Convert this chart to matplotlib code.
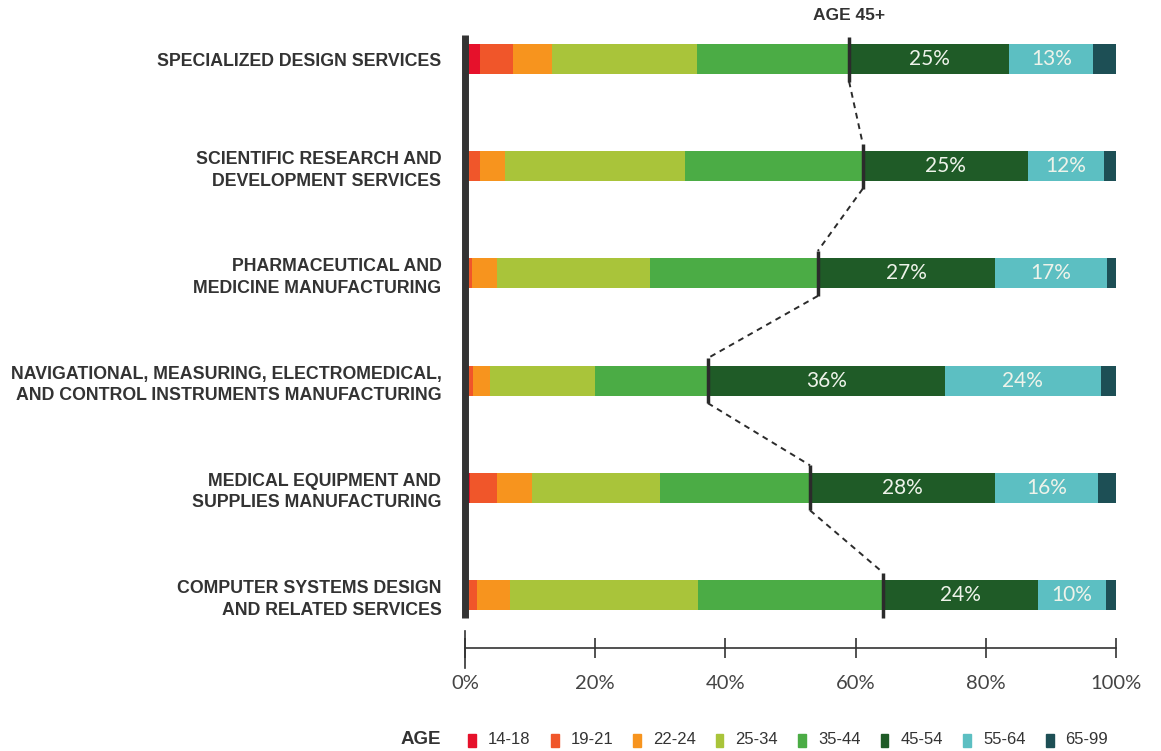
import numpy as np
import matplotlib.pyplot as plt
from matplotlib.patches import Rectangle

# === Data (share of workforce by age bracket, %) ===
industries = [
    "SPECIALIZED DESIGN SERVICES",
    "SCIENTIFIC RESEARCH AND\nDEVELOPMENT SERVICES",
    "PHARMACEUTICAL AND\nMEDICINE MANUFACTURING",
    "NAVIGATIONAL, MEASURING, ELECTROMEDICAL,\nAND CONTROL INSTRUMENTS MANUFACTURING",
    "MEDICAL EQUIPMENT AND\nSUPPLIES MANUFACTURING",
    "COMPUTER SYSTEMS DESIGN\nAND RELATED SERVICES",
]
age_labels = ["14-18", "19-21", "22-24", "25-34", "35-44", "45-54", "55-64", "65-99"]

a14_18 = [2.3, 0.5, 0.3, 0.4, 0.8, 0.5]
a19_21 = [5.1, 1.8, 0.8, 0.8, 4.1, 1.3]
a22_24 = [6.0, 3.8, 3.8, 2.6, 5.4, 5.1]
a25_34 = [22.2, 27.7, 23.5, 16.2, 19.7, 28.9]
a35_44 = [23.4, 27.3, 25.8, 17.3, 23.0, 28.4]
a45_54 = [24.6, 25.4, 27.2, 36.4, 28.4, 23.8]
a55_64 = [12.9, 11.7, 17.2, 24.0, 15.8, 10.4]
a65_99 = [3.5, 1.8, 1.4, 2.3, 2.8, 1.6]

colors = ["#e6112b", "#f0562a", "#f7941e", "#a9c43a",
          "#4bac45", "#1f5b27", "#5cbfc2", "#1d4f55"]

series = [a14_18, a19_21, a22_24, a25_34, a35_44, a45_54, a55_64, a65_99]
data = np.array(series)
n = len(industries)
y = np.arange(n)

# === Figure ===
W, H = 1161, 751
fig = plt.figure(figsize=(W / 100, H / 100), dpi=100)
ax = fig.add_axes([465 / W, 1 - 700 / H, 651 / W, 680 / H])

bar_h = 0.28
left = np.zeros(n)
for vals, col in zip(data, colors):
    ax.barh(y, vals, left=left, height=bar_h, color=col, zorder=2)
    left += vals

# % labels for 45-54 and 55-64
start = data[:5].sum(axis=0)
for k in (5, 6):
    for i in range(n):
        v = data[k, i]
        ax.text(start[i] + v / 2, y[i], f"{v:.0f}%", ha="center", va="center",
                color="#eef3ea", fontsize=15, family=["Lato", "DejaVu Sans"], zorder=4)
    start = start + data[k]

# Age 45+ markers and connecting dashed line
m = data[:5].sum(axis=0)
mh = 0.21
ax.vlines(m, y - mh, y + mh, color="#2b2b2b", lw=2.5, zorder=5, clip_on=False)
for i in range(n - 1):
    ax.plot([m[i], m[i + 1]], [y[i] + mh, y[i + 1] - mh], color="#2b2b2b",
            lw=1.4, ls=(0, (3, 2.5)), zorder=3)
ax.text(m[0], -0.41, "AGE 45+", ha="center", va="center", fontsize=12.5,
        fontweight="bold", color="#333333", family=["Liberation Sans", "DejaVu Sans"])

# left baseline bar
ax.vlines(0, -0.224, 5.21, color="#333333", lw=5.0, zorder=6, clip_on=False)

# === Axes styling ===
ax.set_xlim(0, 100)
ax.set_ylim(5.979, -0.364)
ax.set_yticks(y)
ax.set_yticklabels(industries, fontsize=12.8, fontweight="bold", color="#333333",
                   family=["Liberation Sans", "DejaVu Sans"], linespacing=1.35)
ax.tick_params(axis="y", length=0, pad=17)
for s in ("top", "right", "left"):
    ax.spines[s].set_visible(False)
ax_y = 5.494
ax.spines["bottom"].set_position(("data", ax_y))
ax.spines["bottom"].set_color("#333333")
ax.spines["bottom"].set_linewidth(1.2)
ax.set_xticks(np.arange(0, 101, 20))
ax.set_xticklabels([f"{t}%" for t in range(0, 101, 20)], fontsize=14.5,
                   color="#444444", family=["Lato", "DejaVu Sans"])
ax.tick_params(axis="x", direction="inout", length=14.4, width=1.2,
               color="#333333", pad=12)
ax.plot([0, 0], [ax_y - 0.16, ax_y + 0.19], color="#333333", lw=1.2, clip_on=False)
ax.set_facecolor("none")

# === Legend ===
fig.text(441 / W, 1 - 740 / H, "AGE", ha="right", va="center", fontsize=13.5,
         fontweight="bold", color="#333333", family=["Liberation Sans", "DejaVu Sans"])
for i, (lab, col) in enumerate(zip(age_labels, colors)):
    x0 = 468 + i * 82.5
    fig.add_artist(Rectangle((x0 / W, 1 - 747 / H), 8 / W, 13 / H,
                             transform=fig.transFigure, color=col))
    fig.text((x0 + 20) / W, 1 - 740 / H, lab, ha="left", va="center", fontsize=12,
             color="#333333", family=["Liberation Sans", "DejaVu Sans"])

fig.savefig("out.png", dpi=100)
